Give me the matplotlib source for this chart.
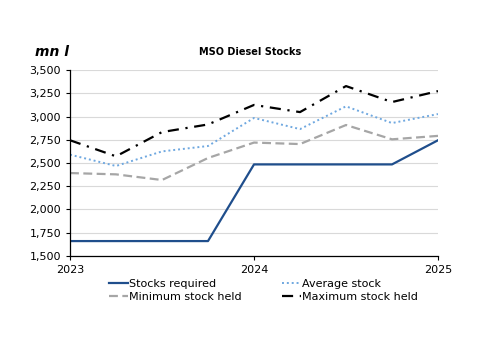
import matplotlib.pyplot as plt
import numpy as np

# quarterly points, 2023 to 2025
quarters = [2023.0, 2023.25, 2023.5, 2023.75, 2024.0, 2024.25, 2024.5, 2024.75, 2025.0]
stocks_required = [1660, 1660, 1660, 1660, 2485, 2485, 2485, 2485, 2745]
average_stock = [2590, 2468, 2625, 2683, 2985, 2865, 3110, 2930, 3027]
minimum_stock = [2392, 2378, 2317, 2554, 2720, 2704, 2909, 2755, 2792]
maximum_stock = [2745, 2572, 2833, 2915, 3125, 3048, 3328, 3156, 3274]
year_ticks = [2023, 2024, 2025]
y_ticks = np.arange(1500, 3501, 250)

fig = plt.figure(figsize=(5.0, 3.54), dpi=100)
ax = fig.add_axes([0.14, 0.277, 0.736, 0.525])

l_req, = ax.plot(quarters, stocks_required, color='#1f4e8c', lw=1.6, label='Stocks required')
l_avg, = ax.plot(quarters, average_stock, color='#6fa8e0', lw=1.4, ls=(0, (1, 1.5)), label='Average stock')
l_min, = ax.plot(quarters, minimum_stock, color='#a6a6a6', lw=1.6, ls=(0, (4, 2)), label='Minimum stock held')
l_max, = ax.plot(quarters, maximum_stock, color='black', lw=1.6, ls=(0, (5, 3, 1, 3)), label='Maximum stock held')

ax.set_xlim(2023, 2025)
ax.set_ylim(1500, 3500)
ax.set_xticks(year_ticks)
ax.set_xticklabels([str(y) for y in year_ticks])
ax.set_yticks(y_ticks)
ax.set_yticklabels([f'{v:,}' for v in y_ticks])
ax.tick_params(labelsize=8, length=3, width=0.8, color='black')
ax.grid(axis='y', color='#d9d9d9', lw=0.8)
ax.set_axisbelow(True)
for side in ['top', 'right']:
    ax.spines[side].set_visible(False)
for side in ['left', 'bottom']:
    ax.spines[side].set_linewidth(0.9)

fig.text(0.5, 0.853, 'MSO Diesel Stocks', ha='center', va='center', fontsize=7, fontweight='bold')
fig.text(0.07, 0.853, 'mn l', ha='left', va='center', fontsize=10, fontweight='bold', style='italic')

# legend filled row-wise like the original
handles = [l_req, l_min, l_avg, l_max]
fig.legend(handles, [h.get_label() for h in handles], loc='upper left',
           bbox_to_anchor=(0.21, 0.225), ncol=2, frameon=False,
           fontsize=8, handlelength=1.7, handletextpad=0.1, columnspacing=3.6,
           labelspacing=0.25, borderaxespad=0)

fig.savefig('out.png', dpi=100)
